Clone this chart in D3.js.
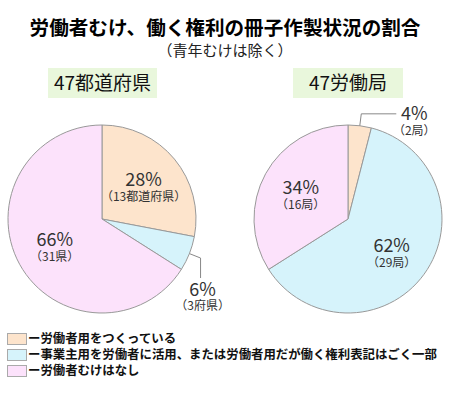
<!DOCTYPE html>
<html>
<head>
<meta charset="utf-8">
<script src="https://cdn.jsdelivr.net/npm/d3@7"></script>
<style>
  body { margin: 0; background: #fff; }
  svg { display: block; font-family: "Noto Sans CJK JP", "Noto Sans", sans-serif; }
</style>
</head>
<body>
<div id="chart"></div>
<script>
const width = 450;
const height = 393;

// categories (legend order = slice order)
const categories = [
  "労働者用をつくっている",
  "事業主用を労働者に活用、または労働者用だが働く権利表記はごく一部",
  "労働者むけはなし"
];
const colors = ["#fde4cc", "#d6f3fb", "#fce2fb"];

// 47都道府県
const prefTitle = "47都道府県";
const prefValues = [28, 6, 66];
const prefCounts = ["（13都道府県）", "（3府県）", "（31県）"];

// 47労働局
const bureauTitle = "47労働局";
const bureauValues = [4, 62, 34];
const bureauCounts = ["（2局）", "（29局）", "（16局）"];

const svg = d3.select("#chart")
  .append("svg")
  .attr("width", width)
  .attr("height", height);

// titles
svg.append("text")
  .attr("x", 225).attr("y", 35)
  .attr("text-anchor", "middle")
  .style("font-size", "19.6px")
  .style("font-weight", "bold")
  .text("労働者むけ、働く権利の冊子作製状況の割合");

svg.append("text")
  .attr("x", 225).attr("y", 56)
  .attr("text-anchor", "middle")
  .style("font-size", "15px")
  .style("fill", "#222")
  .text("（青年むけは除く）");

const radius = 94;
const arc = d3.arc().innerRadius(0).outerRadius(radius);
const pie = d3.pie().sort(null).value(d => d);

function drawPie(cx, cy, title, values, counts, box) {
  const g = svg.append("g").attr("transform", `translate(${cx},${cy})`);

  // header box
  svg.append("rect")
    .attr("x", box[0]).attr("y", 68)
    .attr("width", box[1]).attr("height", 30)
    .attr("fill", "#e9f7dc");
  svg.append("text")
    .attr("x", box[0] + box[1] / 2).attr("y", 83)
    .attr("dy", "0.36em")
    .attr("text-anchor", "middle")
    .style("font-size", "19px")
    .style("fill", "#111")
    .text(title);

  const arcs = pie(values);

  g.selectAll("path")
    .data(arcs)
    .join("path")
    .attr("d", arc)
    .attr("fill", (d, i) => colors[i])
    .attr("stroke", "#999")
    .attr("stroke-width", 1);

  arcs.forEach((d, i) => {
    const mid = (d.startAngle + d.endAngle) / 2;
    const sx = Math.sin(mid), sy = -Math.cos(mid);
    let lx, ly;
    if (d.value >= 10) {
      lx = sx * 54; ly = sy * 54 + 3;
    } else {
      // small slice: leader line
      const p0 = [sx * radius, sy * radius];
      const p1 = [sx * (radius + 12), sy * (radius + 12)];
      let p2;
      if (-sy > 0.7) {
        p2 = [p1[0] + 35, p1[1]];
        lx = p2[0] + 18; ly = p2[1] + 8;
      } else {
        p2 = [p1[0], p1[1] + 20];
        lx = p2[0] + 2; ly = p2[1] + 19;
      }
      g.append("polyline")
        .attr("points", [p0, p1, p2].map(p => p.join(",")).join(" "))
        .attr("fill", "none")
        .attr("stroke", "#888")
        .attr("stroke-width", 1);
    }
    g.append("text")
      .attr("x", lx).attr("y", ly - 8).attr("dy", "0.36em")
      .attr("text-anchor", "middle")
      .style("font-size", "18px").style("fill", "#333")
      .text(d.value + "%");
    g.append("text")
      .attr("x", lx).attr("y", ly + 9).attr("dy", "0.36em")
      .attr("text-anchor", "middle")
      .style("font-size", "12px").style("fill", "#333")
      .text(counts[i]);
  });
}

drawPie(102, 219, prefTitle, prefValues, prefCounts, [48, 109]);
drawPie(348, 219, bureauTitle, bureauValues, bureauCounts, [293, 110]);

// legend
const legend = svg.append("g");
categories.forEach((c, i) => {
  const y = 333 + i * 16;
  legend.append("rect")
    .attr("x", 7.5).attr("y", y + 0.5)
    .attr("width", 19).attr("height", 11)
    .attr("fill", colors[i])
    .attr("stroke", "#aaa")
    .attr("stroke-width", 1);
  legend.append("text")
    .attr("x", 28).attr("y", y + 6)
    .attr("dy", "0.36em")
    .style("font-size", "12.4px")
    .style("font-weight", "bold")
    .style("fill", "#111")
    .text("ー" + c);
});
</script>
</body>
</html>
